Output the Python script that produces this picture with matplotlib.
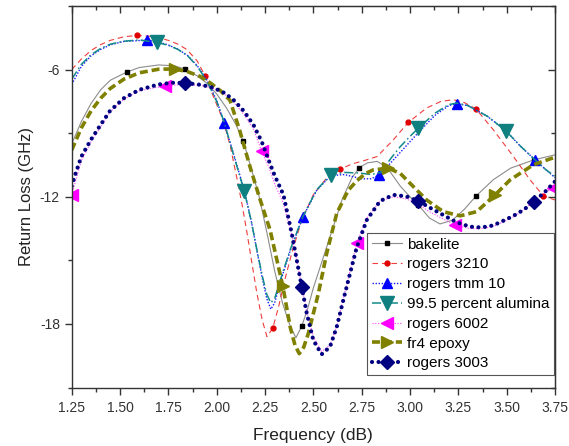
import numpy as np
import matplotlib
matplotlib.use("Agg")
import matplotlib.pyplot as plt
from matplotlib.ticker import MultipleLocator

plt.rcParams['font.family'] = ['Liberation Sans', 'DejaVu Sans']

# ---------------- data ----------------
bakelite_x = [1.25, 1.30, 1.35, 1.40, 1.45, 1.534, 1.60, 1.70, 1.78, 1.836, 1.90, 1.95, 2.00, 2.05,
              2.10, 2.138, 2.18, 2.22, 2.26, 2.30, 2.34, 2.38, 2.41, 2.44, 2.47, 2.50, 2.55, 2.60,
              2.65, 2.70, 2.738, 2.78, 2.83, 2.88, 2.95, 3.00, 3.043, 3.10, 3.155, 3.22, 3.28,
              3.342, 3.43, 3.52, 3.64, 3.75]
bakelite_y = [-9.5, -8.45, -7.6, -6.95, -6.5, -6.12, -5.9, -5.78, -5.82, -5.97, -6.3, -6.65, -7.15,
              -7.8, -8.6, -9.39, -10.7, -12.0, -13.7, -15.5, -17.0, -18.1, -18.65, -18.1, -17.3,
              -16.3, -14.9, -13.5, -12.1, -11.1, -10.62, -10.4, -10.33, -10.6, -11.5, -12.0,
              -12.38, -13.0, -13.28, -13.1, -12.6, -11.96, -11.2, -10.65, -10.26, -10.02]
bakelite_marks = [1.534, 1.836, 2.138, 2.44, 2.738, 3.043, 3.342, 3.64]

r3210_x = [1.25, 1.30, 1.35, 1.40, 1.45, 1.52, 1.588, 1.65, 1.70, 1.75, 1.80, 1.845, 1.90, 1.94,
           1.98, 2.034, 2.07, 2.104, 2.13, 2.155, 2.18, 2.207, 2.235, 2.26, 2.29, 2.32, 2.35, 2.39,
           2.44, 2.50, 2.57, 2.638, 2.70, 2.76, 2.83, 2.914, 2.991, 3.086, 3.16, 3.224, 3.28,
           3.342, 3.431, 3.535, 3.621, 3.69, 3.75]
r3210_y = [-6.0, -5.5, -5.1, -4.82, -4.62, -4.45, -4.39, -4.42, -4.5, -4.62, -4.8, -5.05, -5.6,
           -6.3, -7.2, -8.4, -9.6, -11.1, -12.3, -13.6, -15.0, -16.5, -17.8, -18.6, -18.2, -17.2,
           -16.0, -14.6, -13.1, -11.9, -11.1, -10.7, -10.45, -10.3, -10.1, -9.31, -8.49, -7.81,
           -7.5, -7.42, -7.55, -7.86, -8.84, -10.1, -11.2, -11.96, -12.15]
r3210_marks = [1.588, 1.94, 2.29, 2.638, 2.991, 3.342, 3.69]

tmm10_x = [1.25, 1.30, 1.35, 1.40, 1.45, 1.52, 1.638, 1.70, 1.75, 1.80, 1.85, 1.90, 1.95, 2.00,
           2.038, 2.08, 2.143, 2.18, 2.207, 2.235, 2.259, 2.28, 2.30, 2.33, 2.38, 2.445, 2.517,
           2.59, 2.66, 2.75, 2.80, 2.841, 2.88, 2.95, 3.00, 3.05, 3.13, 3.20, 3.242, 3.30, 3.40,
           3.495, 3.57, 3.647, 3.70, 3.75]
tmm10_y = [-6.7, -5.85, -5.35, -5.05, -4.83, -4.67, -4.61, -4.7, -4.84, -5.04, -5.34, -5.82, -6.5,
           -7.45, -8.52, -9.75, -11.7, -13.2, -14.5, -15.8, -16.8, -17.3, -17.0, -16.0, -14.55,
           -12.97, -11.7, -11.0, -10.95, -11.15, -11.15, -10.96, -10.6, -9.9, -9.4, -8.9, -8.15,
           -7.7, -7.6, -7.7, -8.2, -8.88, -9.6, -10.26, -10.7, -11.1]
tmm10_marks = [1.638, 2.038, 2.445, 2.841, 3.242, 3.647]

alumina_x = [1.25, 1.30, 1.35, 1.40, 1.45, 1.52, 1.60, 1.69, 1.75, 1.80, 1.85, 1.90, 1.95, 2.00,
             2.038, 2.08, 2.143, 2.18, 2.207, 2.235, 2.259, 2.28, 2.30, 2.33, 2.38, 2.445, 2.517,
             2.59, 2.66, 2.74, 2.80, 2.85, 2.90, 2.95, 3.00, 3.043, 3.13, 3.20, 3.242, 3.30, 3.40,
             3.495, 3.57, 3.647, 3.70, 3.75]
alumina_y = [-6.45, -5.75, -5.3, -5.0, -4.8, -4.66, -4.6, -4.72, -4.85, -5.05, -5.35, -5.85, -6.55,
             -7.5, -8.45, -9.8, -11.75, -13.2, -14.45, -15.7, -16.6, -17.0, -16.8, -15.9, -14.5,
             -12.95, -11.67, -10.96, -10.85, -10.88, -10.95, -10.85, -10.2, -9.63, -9.15, -8.76,
             -8.05, -7.65, -7.58, -7.7, -8.2, -8.88, -9.6, -10.26, -10.7, -11.04]
alumina_marks = [1.69, 2.143, 2.59, 3.043, 3.495]

r6002_x = [1.25, 1.30, 1.35, 1.40, 1.448, 1.52, 1.60, 1.733, 1.836, 1.92, 1.982, 2.04, 2.086,
           2.14, 2.19, 2.233, 2.27, 2.30, 2.345, 2.388, 2.414, 2.44, 2.466, 2.50, 2.543, 2.586,
           2.621, 2.655, 2.69, 2.724, 2.776, 2.845, 2.914, 2.98, 3.043, 3.10, 3.172, 3.233,
           3.31, 3.37, 3.43, 3.49, 3.535, 3.59, 3.64, 3.70, 3.742, 3.75]
r6002_y = [-11.9, -10.3, -9.4, -8.7, -8.0, -7.4, -7.0, -6.76, -6.7, -6.75, -6.88, -7.15, -7.5,
           -8.1, -8.8, -9.86, -10.6, -11.4, -12.3, -13.8, -15.0, -16.2, -17.4, -18.6, -19.3,
           -19.0, -18.1, -16.8, -15.5, -14.2, -13.0, -12.2, -12.0, -12.1, -12.35, -12.7, -13.05,
           -13.33, -13.5, -13.5, -13.4, -13.15, -12.95, -12.6, -12.2, -11.8, -11.6, -11.55]
r6002_marks = [1.25, 1.733, 2.233, 2.724, 3.233, 3.742]

fr4_x = [1.25, 1.30, 1.35, 1.40, 1.448, 1.52, 1.60, 1.70, 1.784, 1.85, 1.914, 1.97, 2.02, 2.069,
         2.12, 2.172, 2.22, 2.276, 2.342, 2.38, 2.405, 2.427, 2.45, 2.474, 2.526, 2.569, 2.621,
         2.68, 2.724, 2.77, 2.81, 2.888, 2.95, 3.00, 3.086, 3.172, 3.259, 3.345, 3.44, 3.518,
         3.638, 3.75]
fr4_y = [-9.8, -8.75, -7.95, -7.35, -6.9, -6.45, -6.15, -5.98, -5.97, -6.1, -6.32, -6.65, -7.0,
         -7.45, -8.9, -10.57, -12.0, -13.56, -16.21, -18.14, -19.0, -19.4, -19.1, -18.45, -16.56,
         -14.67, -12.78, -11.7, -11.25, -10.9, -10.73, -10.65, -10.9, -11.36, -12.15, -12.7,
         -12.9, -12.7, -11.91, -11.2, -10.49, -10.13]
fr4_marks = [1.784, 2.342, 2.888, 3.44]

r3003_x = [1.25, 1.27, 1.30, 1.35, 1.40, 1.448, 1.52, 1.60, 1.70, 1.77, 1.836, 1.92, 1.982, 2.04,
           2.086, 2.14, 2.19, 2.233, 2.27, 2.30, 2.345, 2.388, 2.414, 2.44, 2.466, 2.50, 2.543,
           2.586, 2.621, 2.655, 2.69, 2.724, 2.776, 2.845, 2.914, 2.98, 3.043, 3.10, 3.172, 3.24,
           3.31, 3.37, 3.43, 3.49, 3.535, 3.59, 3.64, 3.70, 3.75]
r3003_y = [-11.5, -10.9, -10.1, -9.3, -8.6, -7.95, -7.35, -6.95, -6.7, -6.62, -6.63, -6.72, -6.85,
           -7.1, -7.42, -7.95, -8.6, -9.4, -10.3, -11.0, -11.9, -13.72, -14.98, -16.25, -17.5,
           -18.77, -19.43, -19.08, -18.14, -16.87, -15.61, -14.4, -13.1, -12.2, -11.91, -11.98,
           -12.2, -12.5, -12.86, -13.2, -13.41, -13.45, -13.35, -13.1, -12.9, -12.6, -12.23,
           -11.75, -11.28]
r3003_marks = [1.836, 2.44, 3.043, 3.64]

x_ticks = [1.25, 1.50, 1.75, 2.00, 2.25, 2.50, 2.75, 3.00, 3.25, 3.50, 3.75]
y_ticks = [-18, -12, -6]

# ---------------- figure ----------------
fig = plt.figure(figsize=(5.69, 4.46), dpi=100)
ax = fig.add_axes([0.126, 0.131, 0.8494, 0.8555])


def idx(xs, marks):
    xs = np.asarray(xs)
    return [int(np.argmin(np.abs(xs - m))) for m in marks]


series = [
    ("bakelite", bakelite_x, bakelite_y, bakelite_marks,
     dict(color='#8c8c8c', lw=0.8, ls='-', marker='s', ms=3.5, mfc='black', mec='black')),
    ("rogers 3210", r3210_x, r3210_y, r3210_marks,
     dict(color='#f03c3c', lw=0.8, ls=(0, (5, 3.5)), marker='o', ms=3.5, mfc='#e00000', mec='#e00000')),
    ("rogers tmm 10", tmm10_x, tmm10_y, tmm10_marks,
     dict(color='#1a1aff', lw=1.0, ls=(0, (1, 1.2)), marker='^', ms=7, mfc='#0000ff', mec='#0000ff')),
    ("99.5 percent alumina", alumina_x, alumina_y, alumina_marks,
     dict(color='#138a8a', lw=1.1, ls=(0, (6, 2, 1, 2)), marker='v', ms=10, mfc='#0f7f7f', mec='#0f7f7f')),
    ("rogers 6002", r6002_x, r6002_y, r6002_marks,
     dict(color='#ff40ff', lw=0.8, ls=(0, (1, 1.5)), marker='<', ms=9, mfc='#ff00ff', mec='#ff00ff')),
    ("fr4 epoxy", fr4_x, fr4_y, fr4_marks,
     dict(color='#808000', lw=2.6, ls=(0, (2.2, 1.1)), marker='>', ms=8, mfc='#808000', mec='#808000')),
    ("rogers 3003", r3003_x, r3003_y, r3003_marks,
     dict(color='#000080', lw=3.0, ls=(0, (0.01, 1.55)), dash_capstyle='round', marker='D', ms=7,
          mfc='#000080', mec='#000080')),
]

for name, xs, ys, marks, st in series:
    ax.plot(xs, ys, label=name, markevery=idx(xs, marks), **st)

ax.set_xlim(1.25, 3.75)
ax.set_ylim(-21, -3)
ax.set_xticks(x_ticks)
ax.set_xticklabels([f"{v:.2f}" for v in x_ticks])
ax.set_yticks(y_ticks)
ax.set_yticklabels([str(v) for v in y_ticks])
ax.xaxis.set_minor_locator(MultipleLocator(0.125))
ax.yaxis.set_minor_locator(MultipleLocator(3))
ax.tick_params(which='major', direction='out', length=5, width=1, labelsize=10,
               colors='#333333', labelcolor='#333333')
ax.tick_params(axis='x', which='major', pad=5)
ax.tick_params(which='minor', direction='out', length=3, width=1, colors='#333333')
for s in ax.spines.values():
    s.set_color('#333333')
    s.set_linewidth(1.0)

top = ax.secondary_xaxis('top')
top.set_xticks(x_ticks)
top.xaxis.set_minor_locator(MultipleLocator(0.125))
top.tick_params(which='major', direction='in', length=5, width=1, labeltop=False, colors='#333333')
top.tick_params(which='minor', direction='in', length=3, width=1, colors='#333333')
top.spines['top'].set_color('#333333')
right = ax.secondary_yaxis('right')
right.set_yticks(y_ticks)
right.yaxis.set_minor_locator(MultipleLocator(3))
right.tick_params(which='major', direction='in', length=5, width=1, labelright=False, colors='#333333')
right.tick_params(which='minor', direction='in', length=3, width=1, colors='#333333')
right.spines['right'].set_color('#333333')

ax.set_xlabel("Frequency (dB)", fontsize=12.5, color='#222222', labelpad=9)
ax.set_ylabel("Return Loss (GHz)", fontsize=12, color='#222222', labelpad=4)

leg = ax.legend(loc='upper right', bbox_to_anchor=(0.998, 0.405), borderaxespad=0,
                fontsize=11, fancybox=False, framealpha=1, edgecolor='#555555',
                handlelength=2.0, handletextpad=0.3, labelspacing=0.38, borderpad=0.3,
                markerscale=1.0)
leg.get_frame().set_linewidth(0.8)

fig.savefig("out.png", dpi=100)
